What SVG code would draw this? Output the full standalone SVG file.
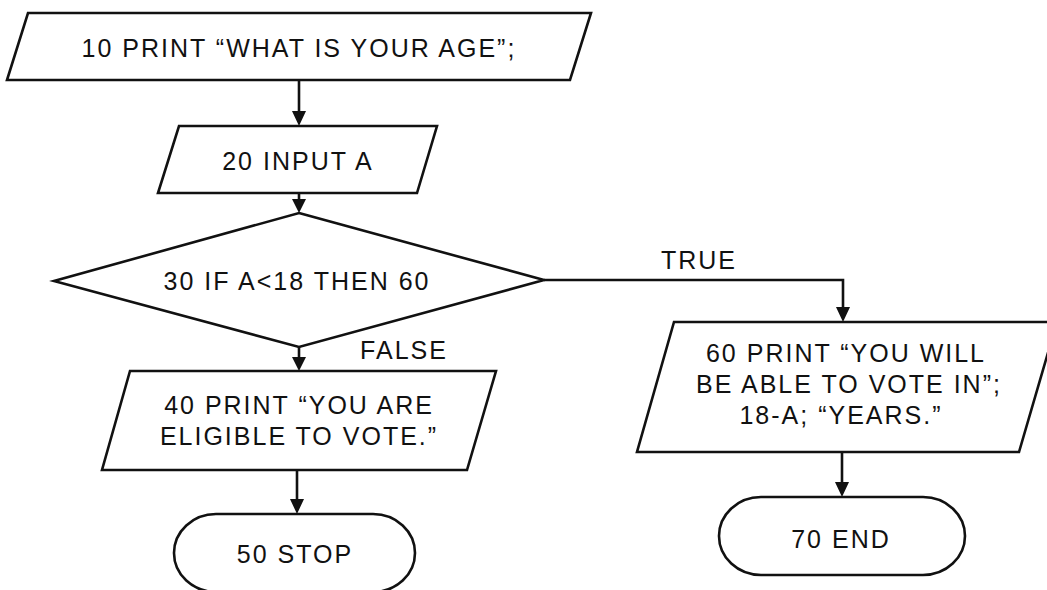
<svg xmlns="http://www.w3.org/2000/svg" width="1047" height="590" viewBox="0 0 1047 590">
<defs>
<style>
.shape{fill:#fff;stroke:#111;stroke-width:2.6;stroke-linejoin:miter}
.t{font-family:"Liberation Sans",Arial,sans-serif;font-size:25px;fill:#111;text-anchor:middle;letter-spacing:2px}
.c{fill:none;stroke:#111;stroke-width:2.6}
.ah{fill:#111}
</style>
</defs>
<rect width="1047" height="590" fill="#fff"/>
<g id="connectors">
<path class="c" d="M299,80 V111"/>
<path class="ah" d="M292,111 L306,111 L299,126 Z"/>
<path class="c" d="M299,193 V199"/>
<path class="ah" d="M292,199 L306,199 L299,213 Z"/>
<path class="c" d="M299,347 V357"/>
<path class="ah" d="M292,357 L306,357 L299,371 Z"/>
<path class="c" d="M544,280 H843 V307"/>
<path class="ah" d="M836,307 L850,307 L843,322 Z"/>
<path class="c" d="M297,470 V499"/>
<path class="ah" d="M290,499 L304,499 L297,514 Z"/>
<path class="c" d="M842,452 V482"/>
<path class="ah" d="M835,482 L849,482 L842,497 Z"/>
<text class="t" x="699" y="269">TRUE</text>
<text class="t" x="404" y="359">FALSE</text>
</g>
<g id="n10">
<polygon class="shape" points="28,13 591,13 570,80 7,80"/>
<text class="t" x="299" y="57">10 PRINT “WHAT IS YOUR AGE”;</text>
</g>
<g id="n20">
<polygon class="shape" points="179,126 437,126 417,193 158,193"/>
<text class="t" x="298" y="170">20 INPUT A</text>
</g>
<g id="n30">
<polygon class="shape" points="299,213 544,280 299,347 54,281"/>
<text class="t" x="297" y="290">30 IF A&lt;18 THEN 60</text>
</g>
<g id="n40">
<polygon class="shape" points="130,371 496,371 467,470 102,470"/>
<text class="t" x="299" y="414">40 PRINT “YOU ARE</text>
<text class="t" x="299" y="445">ELIGIBLE TO VOTE.”</text>
</g>
<g id="n50">
<rect class="shape" x="174" y="514" width="241" height="78" rx="42" ry="39"/>
<text class="t" x="295" y="563">50 STOP</text>
</g>
<g id="n60">
<polygon class="shape" points="674,322 1057,322 1019,452 637,452"/>
<text class="t" x="846" y="362">60 PRINT “YOU WILL</text>
<text class="t" x="849" y="393">BE ABLE TO VOTE IN”;</text>
<text class="t" x="841" y="424">18-A; “YEARS.”</text>
</g>
<g id="n70">
<rect class="shape" x="719" y="497" width="246" height="78" rx="42" ry="39"/>
<text class="t" x="841" y="548">70 END</text>
</g>
</svg>
